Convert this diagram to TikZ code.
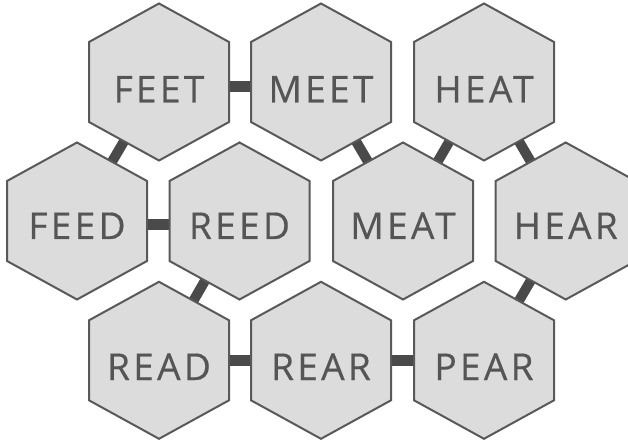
\documentclass[tikz,border=0pt]{standalone}
\usepackage{fontspec}
\setmainfont{Open Sans}[LetterSpace=9,FakeBold=0.5]
\usetikzlibrary{backgrounds}
\definecolor{hexfill}{HTML}{DCDCDC}
\definecolor{hexline}{HTML}{595959}
\definecolor{barcol}{HTML}{4A4A4A}
\definecolor{wordcol}{HTML}{555555}
\tikzset{
  hexedge/.style={draw=hexline, line width=2pt, fill=hexfill, line join=miter},
  word/.style={text=wordcol, font=\fontsize{37}{37}\selectfont, anchor=base, inner sep=0pt},
  bar/.style={draw=barcol, line width=11pt},
  diagbar/.style={draw=barcol, line width=10pt},
}
\newcommand\myhex[5]{% name, x, y, baseline, text
  \path[hexedge] (#2,#3-78.5) -- (#2+70,#3-40) -- (#2+70,#3+40) -- (#2,#3+78.5)
     -- (#2-70,#3+40) -- (#2-70,#3-40) -- cycle;
  \coordinate (#1) at (#2,#3);
  \node[word] (#1txt) at (#2,#4) {#5};
}
\begin{document}
\begin{tikzpicture}[x=1pt,y=-1pt]
\useasboundingbox (0,0) rectangle (628,443);
\clip (0,0) rectangle (628,443);
% row 1
\myhex{feet}{159}{82}{102.5}{FEET}
\myhex{meet}{321}{82}{102.5}{MEET}
\myhex{heat}{484}{82}{102.5}{HEAT}
% row 2
\myhex{feed}{77}{221}{239}{FEED}
\myhex{reed}{239.5}{221}{239}{REED}
\myhex{meat}{403}{221}{239}{MEAT}
\myhex{hear}{565.7}{221}{239}{HEAR}
% row 3
\myhex{read}{159}{360.3}{380}{READ}
\myhex{rear}{321}{360.3}{380}{REAR}
\myhex{pear}{484}{360.3}{380}{PEAR}
\begin{scope}[on background layer]
  \fill[white] (0,0) rectangle (628,443);
  \draw[bar] ([yshift=-5pt]feet) -- ([yshift=-5pt]meet);
  \draw[bar] ([yshift=-3.5pt]feed) -- ([yshift=-3.5pt]reed);
  \draw[bar] (read) -- (rear);
  \draw[bar] (rear) -- (pear);
  \draw[diagbar] (feet) -- (feed);
  \draw[diagbar] (reed) -- (read);
  \draw[diagbar] (meet) -- (meat);
  \draw[diagbar] (heat) -- (meat);
  \draw[diagbar] (heat) -- (hear);
  \draw[diagbar] (hear) -- (pear);
\end{scope}
\end{tikzpicture}
\end{document}
